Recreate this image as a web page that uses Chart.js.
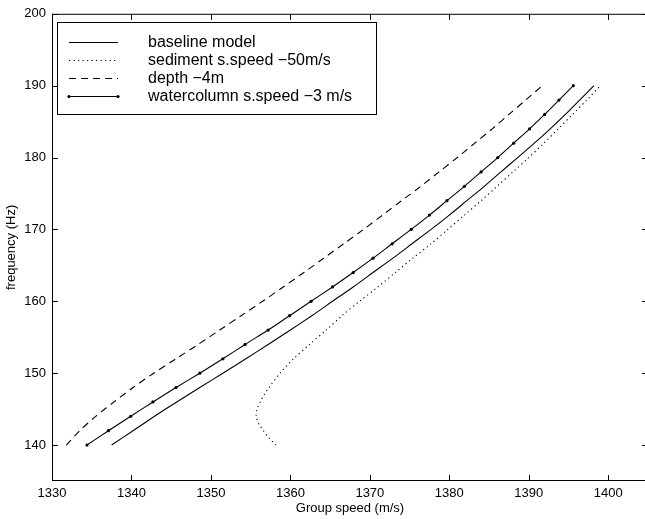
<!DOCTYPE html>
<html>
<head>
<meta charset="utf-8">
<script src="https://cdn.jsdelivr.net/npm/chart.js@4.4.1/dist/chart.umd.min.js"></script>
<style>
  html, body { margin: 0; padding: 0; background: #fff; overflow: hidden; }
  #wrap { width: 645px; height: 519px; overflow: hidden; }
</style>
</head>
<body>
<div id="wrap"><canvas id="myChart" width="652" height="519"></canvas></div>
<script>
//--------------------------------------------------
// values (group speed in m/s against frequency in Hz)
const freqHz = [140, 142, 144, 146, 148, 150, 152, 154, 156, 158, 160, 162, 164,
  166, 168, 170, 172, 174, 176, 178, 180, 182, 184, 186, 188, 190];
const baseline = [1337.5, 1340.2, 1342.9, 1345.7, 1348.6, 1351.5, 1354.4, 1357.2,
  1360.0, 1362.7, 1365.3, 1367.9, 1370.4, 1372.9, 1375.3, 1377.7, 1380.0, 1382.2,
  1384.4, 1386.5, 1388.6, 1390.7, 1392.7, 1394.6, 1396.4, 1398.2];
const depth = [1331.8, 1333.5, 1335.5, 1337.8, 1340.2, 1342.8, 1345.6, 1348.4,
  1351.1, 1353.8, 1356.5, 1359.1, 1361.7, 1364.2, 1366.7, 1369.2, 1371.6, 1374.0,
  1376.4, 1378.7, 1381.0, 1383.2, 1385.4, 1387.5, 1389.6, 1391.7];
const watercolumn = [1334.4, 1337.1, 1339.9, 1342.7, 1345.6, 1348.6, 1351.5, 1354.3,
  1357.2, 1359.9, 1362.6, 1365.3, 1367.9, 1370.4, 1372.8, 1375.2, 1377.5, 1379.7,
  1381.9, 1384.0, 1386.1, 1388.1, 1390.1, 1392.0, 1393.8, 1395.6];
const sedimentFreqHz = [140, 141, 142, 143, 144, 145, 146, 147, 148, 150, 152, 154,
  156, 158, 160, 162, 164, 166, 168, 170, 172, 174, 176, 178, 180, 182, 184, 186, 188, 190];
const sediment = [1358.2, 1357.3, 1356.6, 1356.0, 1355.7, 1355.8, 1356.2, 1356.7,
  1357.3, 1358.7, 1360.4, 1362.4, 1364.5, 1366.5, 1368.7, 1371.0, 1373.2, 1375.4,
  1377.7, 1379.8, 1381.9, 1384.0, 1386.0, 1388.0, 1390.0, 1391.9, 1393.7, 1395.5,
  1397.3, 1399.0];
const legendLabels = ["baseline model", "sediment s.speed \u221250m/s",
  "depth \u22124m", "watercolumn s.speed \u22123 m/s"];
const xTicks = [1330, 1340, 1350, 1360, 1370, 1380, 1390, 1400];
const yTicks = [140, 150, 160, 170, 180, 190, 200];

const FONT = "'Liberation Sans', Arial, Helvetica, sans-serif";
const pts = (speeds, freqs) => speeds.map((s, i) => ({ x: s, y: freqs[i] }));

// box, inward ticks and legend drawn like the matlab figure
const matlabFrame = {
  id: "matlabFrame",
  afterDraw(chart) {
    const { ctx, chartArea: a, scales } = chart;
    ctx.save();
    ctx.strokeStyle = "#000";
    ctx.lineWidth = 1;
    ctx.beginPath();
    ctx.moveTo(a.left + 0.5, a.top + 0.5);
    ctx.lineTo(a.right - 0.5, a.top + 0.5);
    ctx.lineTo(a.right - 0.5, a.bottom - 0.5);
    ctx.moveTo(a.left + 0.5, a.bottom - 0.5);
    ctx.lineTo(a.left + 0.5, a.top);
    ctx.moveTo(a.left, a.bottom - 0.5);
    ctx.lineTo(a.right, a.bottom - 0.5);
    xTicks.forEach((v) => {
      const px = Math.round(scales.x.getPixelForValue(v)) + 0.5;
      ctx.moveTo(px, a.bottom);
      ctx.lineTo(px, a.bottom - 6);
      ctx.moveTo(px, a.top);
      ctx.lineTo(px, a.top + 6);
    });
    yTicks.forEach((v) => {
      const py = Math.round(scales.y.getPixelForValue(v)) + 0.5;
      ctx.moveTo(a.left, py);
      ctx.lineTo(a.left + 6, py);
      ctx.moveTo(a.right, py);
      ctx.lineTo(a.right - 6, py);
    });
    ctx.stroke();

    // legend
    const bx = 57, by = 22, bw = 319, bh = 92;
    ctx.fillStyle = "#fff";
    ctx.fillRect(bx, by, bw, bh);
    ctx.strokeRect(bx + 0.5, by + 0.5, bw, bh);
    const rows = [42, 60, 78, 96];
    ctx.font = "16px " + FONT;
    ctx.textBaseline = "middle";
    chart.data.datasets.forEach((ds, r) => {
      const y = rows[r] + 0.5;
      ctx.save();
      ctx.lineWidth = ds.borderWidth;
      ctx.setLineDash(ds.borderDash || []);
      ctx.beginPath();
      ctx.moveTo(69, y);
      ctx.lineTo(118, y);
      ctx.stroke();
      ctx.restore();
      if (ds.pointRadius > 0) {
        ctx.fillStyle = "#000";
        [69, 118].forEach((mx) => {
          ctx.beginPath();
          ctx.arc(mx, y, ds.pointRadius, 0, Math.PI * 2);
          ctx.fill();
        });
      }
      ctx.fillStyle = "#000";
      ctx.fillText(legendLabels[r], 148, rows[r] + 1);
    });
    ctx.restore();
  },
};

const ctx = document.getElementById("myChart");
new Chart(ctx, {
  type: "scatter",
  data: {
    datasets: [
      {
        label: legendLabels[0],
        data: pts(baseline, freqHz),
        showLine: true,
        tension: 0.3,
        borderColor: "#000",
        borderWidth: 1.1,
        pointRadius: 0,
      },
      {
        label: legendLabels[1],
        data: pts(sediment, sedimentFreqHz),
        showLine: true,
        tension: 0.3,
        borderColor: "#000",
        borderWidth: 1.1,
        borderDash: [1.2, 3.3],
        pointRadius: 0,
      },
      {
        label: legendLabels[2],
        data: pts(depth, freqHz),
        showLine: true,
        tension: 0.3,
        borderColor: "#000",
        borderWidth: 1.1,
        borderDash: [7, 5],
        pointRadius: 0,
      },
      {
        label: legendLabels[3],
        data: pts(watercolumn, freqHz),
        showLine: true,
        tension: 0.3,
        borderColor: "#000",
        backgroundColor: "#000",
        borderWidth: 1.1,
        pointRadius: 1.6,
        pointBorderWidth: 0,
      },
    ],
  },
  options: {
    responsive: false,
    animation: false,
    layout: { padding: { top: 13, right: 3, left: 0, bottom: 0 } },
    plugins: { legend: { display: false }, tooltip: { enabled: false } },
    scales: {
      x: {
        type: "linear",
        min: 1330,
        max: 1405,
        afterFit: (s) => { s.height = 38; },
        afterBuildTicks: (s) => { s.ticks = xTicks.map((v) => ({ value: v })); },
        grid: { display: false, drawTicks: false },
        border: { display: false },
        ticks: {
          color: "#000",
          padding: 5,
          font: { family: FONT, size: 13 },
          callback: (v) => String(v),
        },
        title: {
          display: true,
          text: "Group speed (m/s)",
          color: "#000",
          padding: { top: 0, bottom: 3 },
          font: { family: FONT, size: 13 },
        },
      },
      y: {
        type: "linear",
        min: 135,
        max: 200,
        afterFit: (s) => { s.width = 52; },
        afterBuildTicks: (s) => { s.ticks = yTicks.map((v) => ({ value: v })); },
        grid: { display: false, drawTicks: false },
        border: { display: false },
        ticks: {
          color: "#000",
          padding: 6,
          font: { family: FONT, size: 13 },
          callback: (v) => String(v),
        },
        title: {
          display: true,
          text: "frequency (Hz)",
          color: "#000",
          padding: { top: 4, bottom: 0 },
          font: { family: FONT, size: 13 },
        },
      },
    },
  },
  plugins: [matlabFrame],
});
</script>
</body>
</html>
